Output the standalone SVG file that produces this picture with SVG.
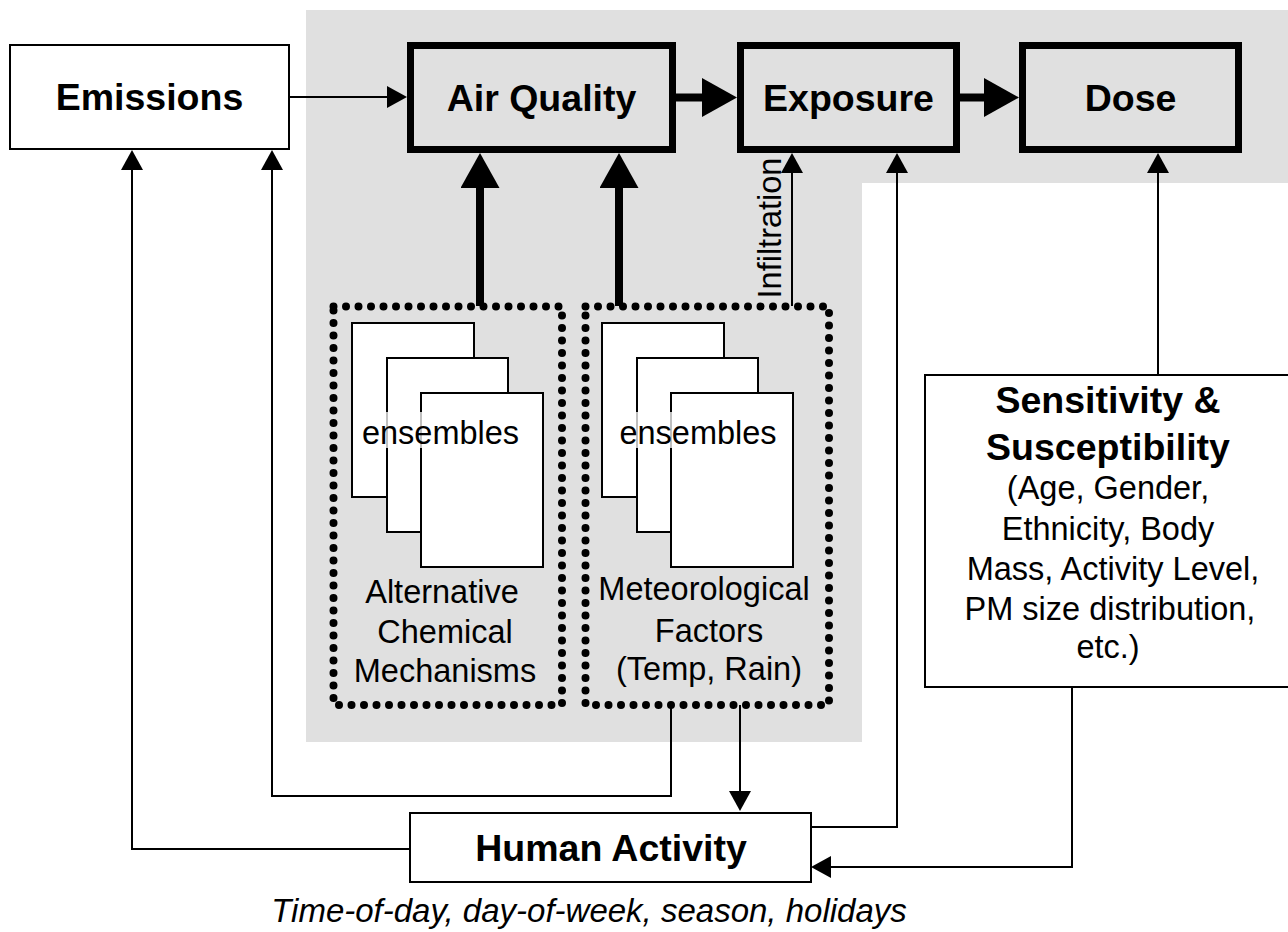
<svg xmlns="http://www.w3.org/2000/svg" width="1288" height="932" viewBox="0 0 1288 932">
<style>
text{font-family:"Liberation Sans",Arial,Helvetica,sans-serif;fill:#000}
.hb{font-size:37.5px;font-weight:bold;text-anchor:middle}
.tx{font-size:32.5px;text-anchor:middle}
.thick{fill:none;stroke:#000;stroke-width:7}
.page{fill:#fff;stroke:#000;stroke-width:2}
.dots{fill:none;stroke:#000;stroke-width:8;stroke-linecap:round;stroke-dasharray:0 12.5}
.c{fill:none;stroke:#000;stroke-width:2}
.ct{fill:none;stroke:#000;stroke-width:8}
</style>
<defs>
<marker id="ah" viewBox="0 0 20 22" refX="0" refY="11" markerWidth="20" markerHeight="22" markerUnits="userSpaceOnUse" orient="auto"><path d="M0,0 L20,11 L0,22 Z" fill="#000"/></marker>
<marker id="ahT" viewBox="0 0 35 39" refX="0" refY="19.5" markerWidth="35" markerHeight="39" markerUnits="userSpaceOnUse" orient="auto"><path d="M0,0 L35,19.5 L0,39 Z" fill="#000"/></marker>
</defs>
<rect width="1288" height="932" fill="#fff"/>
<polygon id="bg" points="306,10 1288,10 1288,183 862,183 862,742 306,742" fill="#e0e0e0"/>

<g id="emissions">
<rect x="10" y="45" width="279" height="104" fill="#fff" stroke="#000" stroke-width="2"/>
<text class="hb" x="149.5" y="110">Emissions</text>
</g>
<g id="air-quality">
<rect class="thick" x="410.5" y="45.5" width="262" height="104"/>
<text class="hb" x="541.5" y="111">Air Quality</text>
</g>
<g id="exposure">
<rect class="thick" x="740.5" y="45.5" width="216" height="104"/>
<text class="hb" x="848.5" y="111">Exposure</text>
</g>
<g id="dose">
<rect class="thick" x="1022.5" y="45.5" width="216" height="104"/>
<text class="hb" x="1130.5" y="111">Dose</text>
</g>

<g id="chemical-mechanisms">
<rect class="dots" x="333.5" y="306.5" width="228.5" height="398.5"/>
<rect class="page" x="352" y="323" width="122" height="174"/>
<rect class="page" x="387" y="358" width="121" height="174"/>
<rect class="page" x="421" y="393" width="122" height="174"/>
<rect x="360" y="412" width="162" height="36" fill="#fff" opacity="0.75"/>
<text class="tx" x="440.5" y="444">ensembles</text>
<text class="tx" x="442" y="603">Alternative</text>
<text class="tx" x="445" y="643">Chemical</text>
<text class="tx" x="445" y="682">Mechanisms</text>
</g>

<g id="meteorological-factors">
<rect class="dots" x="585.5" y="306.5" width="243.5" height="398.5"/>
<rect class="page" x="602" y="323" width="122" height="174"/>
<rect class="page" x="637" y="358" width="121" height="174"/>
<rect class="page" x="671" y="393" width="122" height="174"/>
<rect x="617" y="412" width="162" height="36" fill="#fff" opacity="0.75"/>
<text class="tx" x="698" y="444">ensembles</text>
<text class="tx" x="704" y="600">Meteorological</text>
<text class="tx" x="709" y="642">Factors</text>
<text class="tx" x="709" y="680">(Temp, Rain)</text>
</g>

<g id="sensitivity">
<rect x="925" y="375" width="372" height="312" fill="#fff" stroke="#000" stroke-width="2"/>
<text class="hb" x="1108" y="413">Sensitivity &amp;</text>
<text class="hb" x="1108" y="460">Susceptibility</text>
<text class="tx" x="1108" y="499">(Age, Gender,</text>
<text class="tx" x="1108" y="540">Ethnicity, Body</text>
<text class="tx" x="1113" y="580">Mass, Activity Level,</text>
<text class="tx" x="1110" y="620">PM size distribution,</text>
<text class="tx" x="1108" y="658">etc.)</text>
</g>

<g id="human-activity">
<rect x="410" y="813" width="401" height="69" fill="#fff" stroke="#000" stroke-width="2"/>
<text class="hb" x="611" y="861">Human Activity</text>
<text x="589" y="922" font-size="33" font-style="italic" text-anchor="middle">Time-of-day, day-of-week, season, holidays</text>
</g>

<g id="connectors">
<path class="c" d="M289,97 H387" marker-end="url(#ah)"/>
<path class="ct" d="M676,97.5 H702" marker-end="url(#ahT)"/>
<path class="ct" d="M960,97.5 H984" marker-end="url(#ahT)"/>
<path class="ct" d="M480,306 V188" marker-end="url(#ahT)"/>
<path class="ct" d="M619,306 V188" marker-end="url(#ahT)"/>
<path class="c" d="M792,306 V173" marker-end="url(#ah)"/>
<text x="781" y="228" font-size="32.5" text-anchor="middle" transform="rotate(-90 781 228)">Infiltration</text>
<path class="c" d="M811,827 H897 V173" marker-end="url(#ah)"/>
<path class="c" d="M1158,375 V173" marker-end="url(#ah)"/>
<path class="c" d="M1072,687 V867 H831" marker-end="url(#ah)"/>
<path class="c" d="M740,705 V791" marker-end="url(#ah)"/>
<path class="c" d="M671,705 V796 H272 V170" marker-end="url(#ah)"/>
<path class="c" d="M410,849 H132 V170" marker-end="url(#ah)"/>
</g>
</svg>
